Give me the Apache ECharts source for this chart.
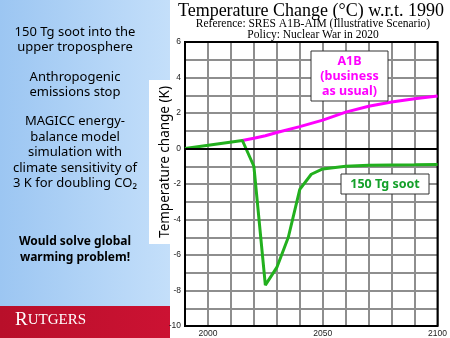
<!DOCTYPE html>
<html><head><meta charset="utf-8">
<script src="https://cdn.jsdelivr.net/npm/echarts@6/dist/echarts.min.js"></script>
<style>html,body{margin:0;padding:0;background:#fff}#c{width:450px;height:338px}</style>
</head><body><div id="c"></div>
<script>
var xTickLabels = [2000, 2050, 2100];
var yTickLabels = [6, 4, 2, 0, -2, -4, -6, -8, -10];
var sootYears  = [1990, 2015, 2020, 2025, 2030, 2035, 2040, 2045, 2050, 2060, 2070, 2080, 2090, 2100];
var sootValues = [0, 0.45, -1.0, -7.7, -6.7, -5.0, -2.3, -1.45, -1.15, -1.0, -0.95, -0.93, -0.92, -0.9];
var a1bYears  = [2015, 2020, 2025, 2030, 2040, 2050, 2060, 2070, 2080, 2090, 2100];
var a1bValues = [0.45, 0.58, 0.72, 0.9, 1.23, 1.6, 2.05, 2.38, 2.62, 2.8, 2.96];
var sideText = ["150 Tg soot into the", "upper troposphere", "", "Anthropogenic", "emissions stop", "", "MAGICC energy-", "balance model", "simulation with", "climate sensitivity of", "3 K for doubling CO\u2082"];

function pairs(xs, ys){ return xs.map(function(x,i){return [x, ys[i]];}); }

var chart = echarts.init(document.getElementById('c'));
var sideY = [32, 47, 0, 77, 92, 0, 121, 137, 152, 168, 183];
var graphics = [
  {type:'rect', shape:{x:0,y:0,width:170,height:307}, style:{fill:{type:'linear',x:0,y:0,x2:1,y2:0,colorStops:[{offset:0,color:'#9cc6f2'},{offset:1,color:'#c4dffa'}]}}, z:-10},
  {type:'rect', shape:{x:0,y:306,width:170,height:32}, style:{fill:{type:'linear',x:0,y:0,x2:1,y2:0,colorStops:[{offset:0,color:'#b80f2a'},{offset:1,color:'#cc1233'}]}}, z:-10},
  {type:'rect', shape:{x:149,y:80,width:21,height:164}, style:{fill:'#ffffff'}, z:-9},
  {type:'text', left:15, top:311, style:{text:'{a|R}{b|UTGERS}', rich:{a:{fill:'#fff', font:'19px "Liberation Serif", serif'}, b:{fill:'#fff', font:'15px "Liberation Serif", serif'}}}},
  {type:'text', x:311, y:2, style:{text:'Temperature Change (\u00b0C) w.r.t. 1990', fill:'#000', font:'18px "Liberation Serif", serif', textAlign:'center'}},
  {type:'text', x:313, y:18, style:{text:'Reference: SRES A1B-AIM (Illustrative Scenario)', fill:'#000', font:'11.5px "Liberation Serif", serif', textAlign:'center'}},
  {type:'text', x:313, y:29, style:{text:'Policy: Nuclear War in 2020', fill:'#000', font:'11.5px "Liberation Serif", serif', textAlign:'center'}},
  {type:'text', x:165, y:162, rotation:Math.PI/2, style:{text:'Temperature change (K)', fill:'#000', font:'13.5px "Noto Sans", sans-serif', textAlign:'center', textVerticalAlign:'middle'}},
  {type:'rect', shape:{x:311,y:51,width:77,height:50}, style:{fill:'#ffffff', stroke:'#333', lineWidth:1}, z:50},
  {type:'text', x:349.5, y:76, z:51, style:{text:'A1B\n(business\nas usual)', fill:'#ff00ff', font:'bold 12.5px "Noto Sans", sans-serif', textAlign:'center', textVerticalAlign:'middle', lineHeight:15}},
  {type:'rect', shape:{x:341,y:174,width:88,height:20}, style:{fill:'#ffffff', stroke:'#333', lineWidth:1}, z:50},
  {type:'text', x:385, y:184, z:51, style:{text:'150 Tg soot', fill:'#14a02a', font:'bold 12.5px "Noto Sans", sans-serif', textAlign:'center', textVerticalAlign:'middle'}},
  {type:'text', x:75, y:250, style:{text:'Would solve global\nwarming problem!', fill:'#000', font:'bold 12px "Noto Sans", sans-serif', textAlign:'center', textVerticalAlign:'middle', lineHeight:16}}
];
sideText.forEach(function(t,i){
  if(!t) return;
  graphics.push({type:'text', x:75, y:sideY[i], style:{text:t, fill:'#000', font:'13px "Noto Sans", sans-serif', textAlign:'center', textVerticalAlign:'middle'}});
});

chart.setOption({
  animation:false,
  backgroundColor:'#ffffff',
  grid:{left:185, right:11, top:42, bottom:12, show:false},
  xAxis:{type:'value', min:1990, max:2100, interval:10,
    axisLine:{show:false}, axisTick:{show:false},
    axisLabel:{fontSize:8.5, color:'#222', margin:3, fontFamily:'Arial, "Liberation Sans", sans-serif',
      formatter:function(v){ return xTickLabels.indexOf(v)>=0 ? String(v) : ''; }},
    splitLine:{show:true, lineStyle:{color:'#8e8e8e', width:2}}},
  yAxis:{type:'value', min:-10, max:6, interval:1,
    axisLine:{show:false}, axisTick:{show:false},
    axisLabel:{fontSize:8.5, color:'#222', margin:4, fontFamily:'Arial, "Liberation Sans", sans-serif',
      formatter:function(v){ return yTickLabels.indexOf(v)>=0 ? String(v) : ''; }},
    splitLine:{show:true, lineStyle:{color:'#8e8e8e', width:2}}},
  graphic:graphics,
  series:[
    {type:'line', data:pairs(a1bYears, a1bValues), showSymbol:false, symbol:'none', lineStyle:{color:'#ff00ff', width:3}, z:3,
      markLine:{silent:true, symbol:'none', label:{show:false}, lineStyle:{color:'#000', width:2, type:'solid'}, data:[{yAxis:0}]}},
    {type:'line', data:pairs(sootYears, sootValues), showSymbol:false, symbol:'none', lineStyle:{color:'#22b01e', width:3}, z:4},
    {type:'line', data:[], markArea:{silent:true, itemStyle:{color:'rgba(0,0,0,0)', borderColor:'#000', borderWidth:2},
      data:[[{coord:[1990,-10]},{coord:[2100,6]}]]}}
  ]
});
</script></body></html>
